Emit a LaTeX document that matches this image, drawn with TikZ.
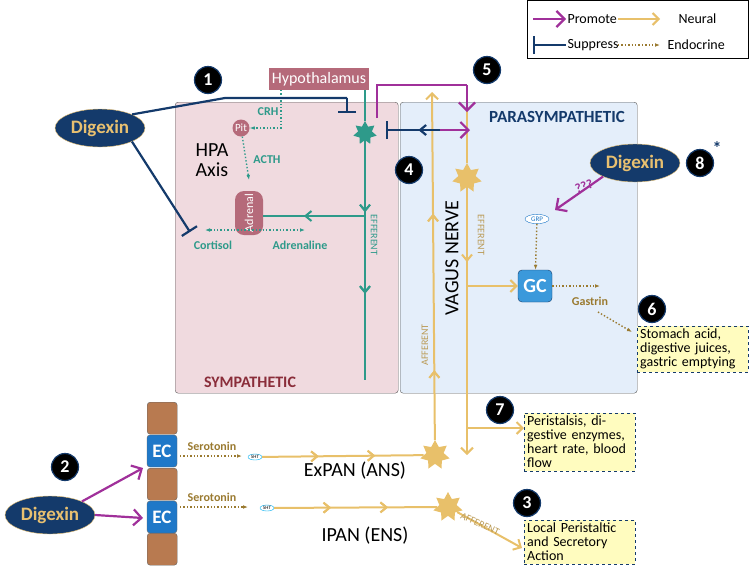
\documentclass[tikz,border=0pt]{standalone}
\usepackage{fontspec}
\setmainfont{Carlito}
\usetikzlibrary{shapes.geometric,arrows.meta,decorations.markings}
\definecolor{teal2}{HTML}{2E9A8A}
\definecolor{tan2}{HTML}{E8C06A}
\definecolor{mag}{HTML}{A0309A}
\definecolor{navy}{HTML}{143A6B}
\definecolor{dot}{HTML}{9A7A30}
\definecolor{rose}{HTML}{B56A7A}
\definecolor{brick}{HTML}{8A2D3A}
\definecolor{brn}{HTML}{B87A50}
\definecolor{ecb}{HTML}{1F78C8}
\definecolor{gold}{HTML}{E8C070}
\definecolor{pinkbg}{HTML}{F0DADF}
\definecolor{bluebg}{HTML}{E4EEFA}
\newcommand{\fs}[1]{\fontsize{#1}{#1}\selectfont}
\tikzset{
 x=1pt,y=-1pt,
 badge/.style={circle,fill=black,draw=navy,line width=1.2pt,text=white,font=\bfseries\fs{18},minimum size=27pt,inner sep=0},
 dig/.style={ellipse,fill=navy,draw=gold,text=gold,font=\bfseries\fs{19},minimum width=90pt,minimum height=38pt,inner sep=0},
 outbox/.style={draw=navy,dashed,fill=yellow!25,align=left,font=\fs{14}\linespread{1.05},inner sep=3pt,text width=#1},
 neural/.style={draw=tan2,line width=2pt},
 teal/.style={draw=teal2,line width=2pt},
 promote/.style={draw=mag,line width=2.2pt,-{Straight Barb[length=8pt,width=16pt]}},
 suppress/.style={draw=navy,line width=2.2pt,-{Bar[width=18pt]}},
 endo/.style={draw=dot,dotted,line width=1.4pt,-{Latex[length=5pt]}},
 midarr/.style={postaction={decorate},decoration={markings,mark=at position #1 with {\arrow{Straight Barb[length=6pt,width=10pt]}}}},
 star7/.style={star,star points=7,star point ratio=1.7,minimum size=#1,inner sep=0},
 lbl/.style={font=\bfseries\fs{12}},
 leglbl/.style={anchor=west,font=\fs{14}},
}
\begin{document}
\begin{tikzpicture}
\useasboundingbox (0,0) rectangle (750,574);
% boxes
\node[draw=gray!70!black,fill=pinkbg,rounded corners=3pt,minimum width=223pt,minimum height=291pt,anchor=north west] (symp) at (175,102) {};
\node[draw=gray!70!black,fill=bluebg,rounded corners=3pt,minimum width=237pt,minimum height=291pt,anchor=north west] (para) at (400,102) {};
\node[text=brick,font=\bfseries\fs{16}] (symlbl) at (250,382) {SYMPATHETIC};
\node[text=navy,font=\bfseries\fs{17}] (paralbl) at (557,117) {PARASYMPATHETIC};
% legend
\node[draw=black,fill=white,minimum width=221pt,minimum height=58pt,anchor=north west] (leg) at (527,0) {};
\coordinate (l1) at (533,19); \coordinate (l1e) at (566,19);
\draw[promote] (l1) -- (l1e);
\node[leglbl] (tp) at (564,19) {Promote};
\coordinate (l2) at (533,45); \coordinate (l2e) at (566,45);
\draw[suppress] (l2e) -- (l2);
\node[leglbl] (ts) at (564,45) {Suppress};
\coordinate (l3) at (618,19); \coordinate (l3e) at (660,19);
\draw[neural,-{Straight Barb[length=6pt,width=12pt]}] (l3) -- (l3e);
\node[leglbl] (tn) at (675,19) {Neural};
\coordinate (l4) at (618,45); \coordinate (l4e) at (660,45);
\draw[endo] (l4) -- (l4e);
\node[leglbl] (te) at (664,45) {Endocrine};
% hypothalamus / HPA
\node[fill=rose,text=white,minimum width=98pt,minimum height=22pt,font=\fs{16}] (hyp) at (319,79) {Hypothalamus};
\node[circle,fill=rose,text=white,font=\fs{11},minimum size=17pt,inner sep=0] (pit) at (241,128) {Pit};
\node[fill=rose,text=white,rounded corners=9pt,minimum width=28pt,minimum height=44pt,inner sep=0] (adr) at (249,213) {\rotatebox{90}{\fs{12}Adrenal}};
\node[font=\fs{20}\linespread{1.1},align=left] (hpa) at (212,160) {HPA\\Axis};
\coordinate (c1) at (281,90); \coordinate (c2) at (281,128);
\draw[endo,draw=teal2] (c1) -- (c2) -- (pit);
\node[lbl,text=teal2] (crh) at (268,112) {CRH};
\coordinate (c3) at (249,180);
\draw[endo,draw=teal2] (pit) -- (c3);
\node[lbl,text=teal2] (acth) at (267,160) {ACTH};
\coordinate (co) at (205,230); \coordinate (ad) at (305,230); \coordinate (ac) at (249,230);
\draw[endo,draw=teal2] (ac) -- (co);
\draw[endo,draw=teal2] (ac) -- (ad);
\node[lbl,text=teal2] (cort) at (213,245) {Cortisol};
\node[lbl,text=teal2] (adrl) at (300,245) {Adrenaline};
% teal efferent
\node[star7=24pt,fill=teal2] (tstar) at (365,133) {};
\coordinate (t0) at (365,90); \coordinate (t1) at (365,380); \coordinate (tb) at (365,216);
\draw[teal] (t0) -- (tstar);
\draw[teal,midarr=0.3,midarr=0.64] (tstar) -- (t1);
\draw[teal,midarr=0.6] (tb) -- (adr.east |- tb);
\node[rotate=-90,text=teal2,font=\fs{10}] (eff1) at (374,235) {EFFERENT};
% vagus
\node[star7=30pt,fill=tan2] (vstar) at (467,178) {};
\coordinate (vt) at (467,108); \coordinate (ve) at (467,455);
\draw[neural] (vt) -- (vstar);
\draw[neural,midarr=0.28,-{Straight Barb[length=6pt,width=12pt]}] (vstar) -- (ve);
\node[star7=30pt,fill=tan2] (exs) at (435,455) {};
\node[star7=30pt,fill=tan2] (ips) at (448,507) {};
\coordinate (at) at (432,92);
\draw[neural,midarr=0.2,midarr=0.65,-{Straight Barb[length=6pt,width=12pt]}] (exs) -- (at);
\node[rotate=90,font=\fs{20}] (vn) at (452,258) {VAGUS NERVE};
\node[rotate=90,text=tan2!80!black,font=\fs{10}] (aff1) at (425,345) {AFFERENT};
\node[rotate=-90,text=tan2!80!black,font=\fs{10}] (eff2) at (481,235) {EFFERENT};
% GC
\node[fill=cyan!70!blue!80,draw=navy,rounded corners=4pt,text=white,font=\bfseries\fs{20},minimum width=34pt,minimum height=32pt] (gc) at (535,286) {GC};
\node[ellipse,draw=ecb,fill=white,text=ecb,font=\fs{7},inner sep=1pt,minimum width=24pt] (grp) at (537,219) {GRP};
\coordinate (vb) at (467,286);
\draw[neural,-{Straight Barb[length=6pt,width=12pt]}] (vb) -- (gc);
\draw[endo] (grp) -- (gc);
\coordinate (g1) at (600,286);
\draw[endo] (gc) -- (g1);
\node[lbl,text=dot] (gas) at (590,301) {Gastrin};
\coordinate (g2) at (598,312); \coordinate (g3) at (632,332);
\draw[endo] (g2) -- (g3);
% outputs
\node[outbox=105pt,anchor=north west] (o6) at (637,326) {\raggedright\hyphenpenalty=10000 Stomach acid, digestive juices, gastric emptying};
\node[outbox=105pt,anchor=north west] (o7) at (524,413) {\raggedright\hyphenpenalty=10000 Peristalsis, digestive enzymes, heart rate, blood flow};
\node[outbox=105pt,anchor=north west] (o3) at (524,520) {\raggedright\hyphenpenalty=10000 Local Peristaltic and Secretory Action};
\coordinate (v7) at (467,428);
\draw[neural,-{Straight Barb[length=6pt,width=12pt]}] (v7) -- (o7.west |- v7);
\coordinate (a3) at (522,548);
\draw[neural,-{Straight Barb[length=6pt,width=12pt]}] (ips) -- (a3);
\node[rotate=-25,text=tan2!80!black,font=\fs{10}] (aff2) at (480,524) {AFFERENT};
% gut
\foreach \y/\n in {402/b1,468/b2,533/b3}{\node[fill=brn,draw=black!60,rounded corners=3pt,minimum width=30pt,minimum height=32pt,anchor=north west] (\n) at (147,\y) {};}
\node[fill=ecb,draw=black!60,rounded corners=3pt,minimum width=30pt,minimum height=32pt,text=white,font=\bfseries\fs{19}] (ec1) at (162,451) {EC};
\node[fill=ecb,draw=black!60,rounded corners=3pt,minimum width=30pt,minimum height=32pt,text=white,font=\bfseries\fs{19}] (ec2) at (162,517) {EC};
\node[ellipse,draw=cyan,fill=white,font=\fs{5},inner sep=0.5pt,minimum width=14pt] (h1) at (255,457) {5HT};
\node[ellipse,draw=cyan,fill=white,font=\fs{5},inner sep=0.5pt,minimum width=14pt] (h2) at (267,508) {5HT};
\coordinate (s1) at (180,456); \coordinate (s1e) at (242,456);
\coordinate (s2) at (180,507); \coordinate (s2e) at (248,507);
\draw[endo] (s1) -- (s1e); \draw[endo] (s2) -- (s2e);
\node[lbl,text=dot] (se1) at (212,446) {Serotonin};
\node[lbl,text=dot] (se2) at (212,497) {Serotonin};
\draw[neural,midarr=0.35,midarr=0.7] (h1) -- (exs);
\draw[neural,midarr=0.35,midarr=0.7] (h2) -- (ips);
\node[font=\fs{20}] (expan) at (355,471) {ExPAN (ANS)};
\node[font=\fs{20}] (ipan) at (365,536) {IPAN (ENS)};
% Digexins
\node[dig] (d1) at (100,128) {Digexin};
\node[dig] (d2) at (50,515) {Digexin};
\node[dig] (d8) at (635,163) {Digexin};
\node[badge] (n1) at (208,80) {1};
\node[badge] (n2) at (65,467) {2};
\node[badge] (n3) at (527,503) {3};
\node[badge] (n4) at (409,170) {4};
\node[badge] (n5) at (487,70) {5};
\node[badge] (n6) at (652,309) {6};
\node[badge] (n7) at (500,410) {7};
\node[badge] (n8) at (700,163) {8};
\node[text=navy,font=\bfseries\fs{18}] (ast) at (717,148) {*};
% suppress lines
\coordinate (p1) at (225,98); \coordinate (p2) at (347,98); \coordinate (p3) at (347,113);
\draw[draw=navy,line width=2.2pt] (d1.north east) -- (p1) -- (p2);
\draw[suppress] (p2) -- (p3);
\coordinate (p4) at (190,232);
\draw[suppress] (d1.south east) -- (p4);
\coordinate (q1) at (440,130); \coordinate (q2) at (386,130);
\draw[suppress,midarr=0.4] (q1) -- (q2);
\coordinate (q3) at (470,130);
\draw[promote] (q1) -- (q3);
% promote from star
\coordinate (m1) at (377,118); \coordinate (m2) at (377,85); \coordinate (m3) at (467,85); \coordinate (m4) at (467,112);
\draw[draw=mag,line width=2.2pt] (m1) -- (m2) -- (m3);
\draw[promote] (m3) -- (m4);
% digexin 8
\coordinate (e8) at (555,210);
\draw[promote] (d8.south west) -- (e8);
\node[text=mag,font=\bfseries\fs{13},rotate=20] (qq) at (584,186) {???};
% digexin 2
\coordinate (k1) at (143,468); \coordinate (k2) at (143,518);
\draw[promote] (d2.north east) -- (k1);
\draw[promote] (d2.east) -- (k2);
\end{tikzpicture}
\end{document}
